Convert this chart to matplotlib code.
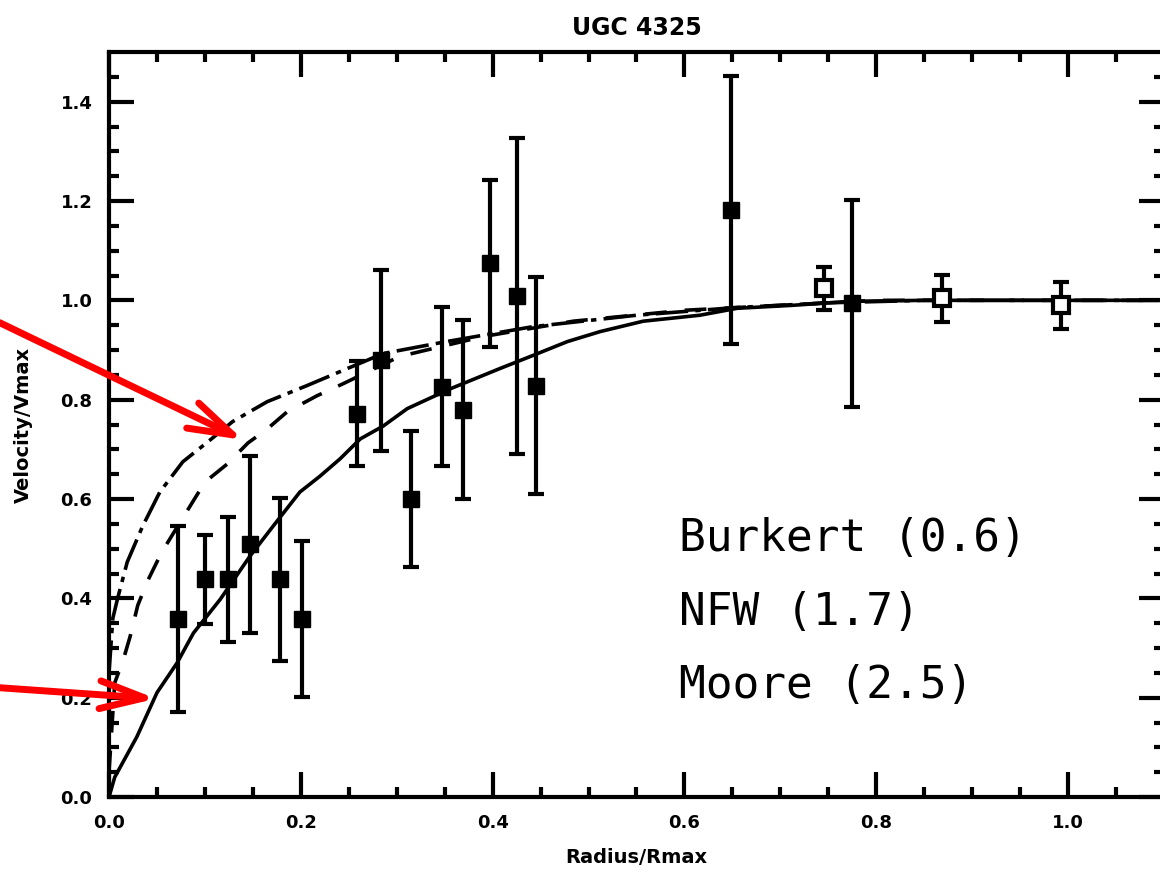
import numpy as np
import matplotlib.pyplot as plt

# rotation curve points (filled = HI, open = other)
r_fill = [0.072, 0.100, 0.124, 0.147, 0.178, 0.201, 0.259, 0.284, 0.315,
          0.347, 0.369, 0.397, 0.425, 0.445, 0.649, 0.775]
v_fill = [0.358, 0.438, 0.438, 0.509, 0.438, 0.358, 0.772, 0.879, 0.600,
          0.826, 0.780, 1.075, 1.008, 0.828, 1.182, 0.994]
e_fill = [0.187, 0.090, 0.125, 0.178, 0.165, 0.157, 0.106, 0.182, 0.137,
          0.160, 0.180, 0.168, 0.318, 0.218, 0.270, 0.208]

r_open = [0.745, 0.869, 0.993]
v_open = [1.024, 1.004, 0.990]
e_open = [0.043, 0.047, 0.047]

# model curves
r_burk = [0.0, 0.006, 0.029, 0.050, 0.071, 0.088, 0.116, 0.147, 0.171, 0.199,
          0.220, 0.241, 0.262, 0.286, 0.311, 0.356, 0.408, 0.442, 0.478, 0.512,
          0.557, 0.616, 0.655, 0.713, 0.773, 0.850, 1.0, 1.1]
v_burk = [0.0, 0.040, 0.121, 0.210, 0.270, 0.330, 0.398, 0.485, 0.545, 0.614,
          0.646, 0.681, 0.721, 0.747, 0.782, 0.822, 0.863, 0.889, 0.917, 0.937,
          0.958, 0.970, 0.984, 0.990, 0.998, 1.0, 1.0, 1.0]

r_nfw = [0.0, 0.006, 0.015, 0.022, 0.030, 0.041, 0.055, 0.084, 0.100, 0.123,
         0.145, 0.165, 0.186, 0.217, 0.244, 0.303, 0.390, 0.484, 0.600, 0.700,
         0.800, 1.0, 1.1]
v_nfw = [0.05, 0.230, 0.277, 0.323, 0.386, 0.438, 0.493, 0.584, 0.634, 0.670,
         0.713, 0.741, 0.776, 0.808, 0.832, 0.887, 0.927, 0.958, 0.980, 0.990,
         1.0, 1.0, 1.0]

r_moore = [0.0, 0.004, 0.009, 0.019, 0.035, 0.053, 0.077, 0.103, 0.129, 0.165,
           0.206, 0.244, 0.286, 0.352, 0.442, 0.550, 0.650, 0.750, 0.850, 1.0, 1.1]
v_moore = [0.25, 0.360, 0.400, 0.473, 0.545, 0.614, 0.675, 0.715, 0.756, 0.796,
           0.828, 0.859, 0.893, 0.917, 0.947, 0.970, 0.985, 0.995, 1.0, 1.0, 1.0]

labels = ['Burkert (0.6)', 'NFW (1.7)', 'Moore (2.5)']

plt.rcParams['font.family'] = 'DejaVu Sans'

fig = plt.figure(figsize=(11.6, 8.76), dpi=100)
ax = fig.add_axes([109 / 1160, 79 / 876, 1055 / 1160, 745 / 876])

ax.plot(r_burk, v_burk, color='black', lw=2.6, ls='-')
ax.plot(r_nfw, v_nfw, color='black', lw=2.6, ls=(0, (6, 5)))
ax.plot(r_moore, v_moore, color='black', lw=2.6, ls=(0, (9, 2, 1.5, 2)))

ax.errorbar(r_fill, v_fill, yerr=e_fill, fmt='s', color='black', ms=11,
            elinewidth=3, capsize=6, capthick=3, zorder=5)
ax.errorbar(r_open, v_open, yerr=e_open, fmt='s', color='black', ms=11,
            mfc='white', mew=3, elinewidth=3, capsize=6, capthick=3, zorder=5)

ax.set_xlim(0, 1.1)
ax.set_ylim(0, 1.5)
ax.set_xticks(np.arange(0, 1.01, 0.2))
ax.set_xticks(np.arange(0, 1.1, 0.05), minor=True)
ax.set_yticks(np.arange(0, 1.41, 0.2))
ax.set_yticks(np.arange(0, 1.5, 0.05), minor=True)
ax.tick_params(which='both', direction='in', top=True, right=True, width=3,
               labelsize=13)
ax.tick_params(which='major', length=18, pad=12)
ax.tick_params(which='minor', length=7)
for lab in ax.get_xticklabels() + ax.get_yticklabels():
    lab.set_fontweight('bold')
for s in ax.spines.values():
    s.set_linewidth(3)

ax.set_title('UGC 4325', fontsize=17, fontweight='bold', pad=12)
ax.set_xlabel('Radius/Rmax', fontsize=14, fontweight='bold', labelpad=12)
ax.set_ylabel('Velocity/Vmax', fontsize=14, fontweight='bold', labelpad=20)

for i, t in enumerate(labels):
    ax.text(0.594, 0.52 - i * 0.148, t, fontsize=32, va='center', ha='left',
            family='DejaVu Sans Mono')

# red arrows pointing at the curves
ax.annotate('', xy=(0.140, 0.719), xytext=(-0.114, 0.955),
            annotation_clip=False,
            arrowprops=dict(arrowstyle='->,head_length=32,head_width=10',
                            mutation_scale=1, color='red', lw=5,
                            shrinkA=0, shrinkB=0))
ax.annotate('', xy=(0.049, 0.198), xytext=(-0.114, 0.220),
            annotation_clip=False,
            arrowprops=dict(arrowstyle='->,head_length=32,head_width=10',
                            mutation_scale=1, color='red', lw=5,
                            shrinkA=0, shrinkB=0))

fig.savefig('out.png', dpi=100)
